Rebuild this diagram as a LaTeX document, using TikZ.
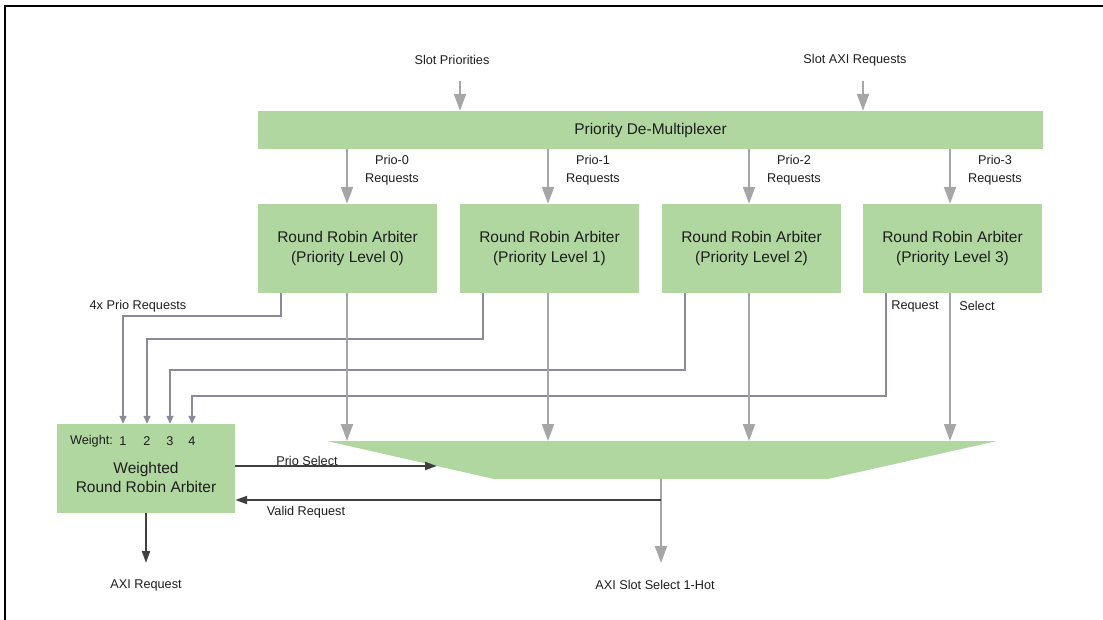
\documentclass[tikz,border=0pt]{standalone}
\usepackage{fontspec}
\setmainfont{Liberation Sans}
\usetikzlibrary{arrows.meta}
\definecolor{blockgreen}{HTML}{B0D7A0}
\definecolor{flowgray}{HTML}{A6A6A6}
\definecolor{reqline}{HTML}{8A8A9A}
\definecolor{ctrldark}{HTML}{404040}
\definecolor{txt}{HTML}{1E1E1E}

\begin{document}
\begin{tikzpicture}[x=1pt,y=-1pt,
  block/.style={fill=blockgreen, draw=none, align=center, text=txt,
    font=\fontsize{15.5}{19.5}\selectfont, inner sep=0pt},
  lbl/.style={align=center, text=txt, font=\fontsize{12.7}{18}\selectfont, inner sep=0pt},
  flow/.style={draw=flowgray, line width=2pt, -{Triangle[width=12pt,length=17pt]}},
  req/.style={draw=reqline, line width=1.4pt, -{Triangle[width=7pt,length=8pt]}},
  ctrl/.style={draw=ctrldark, line width=2pt, -{Triangle[width=8pt,length=12pt]}},
]
\useasboundingbox (0,0) rectangle (1103,620);

% page frame (top and left edges)
\draw[line width=2pt] (5,620) -- (5,6) -- (1104,6);

% ---------- inputs and de-multiplexer ----------
\node[lbl] (prioIn) at (452,60) {Slot Priorities};
\node[lbl] (axiIn)  at (855,60) {Slot AXI Requests};
\node[block, minimum width=785pt, minimum height=38pt] (demux) at (650.5,130) {Priority De-Multiplexer};

\coordinate (prioSrc) at (460,81);
\coordinate (axiSrc)  at (863,81);
\draw[flow] (prioSrc) -- (prioSrc |- demux.north);
\draw[flow] (axiSrc)  -- (axiSrc |- demux.north);

% ---------- per-level round robin arbiters ----------
\foreach \i/\bx in {0/347.5,1/549.5,2/751.5,3/952.5}
  \node[block, minimum width=179pt, minimum height=89pt] (rr\i) at (\bx,248.5)
    {Round Robin Arbiter\\(Priority Level \i)};

% select columns
\foreach \i/\px in {0/347,1/548,2/749,3/950}
  \coordinate (sel\i) at (\px,0);

% request labels and de-mux outputs
\foreach \i/\px in {0/347,1/548,2/749,3/950}{
  \draw[flow] (demux.south -| sel\i) -- (rr\i.north -| sel\i);
  \node[lbl] (preq\i) at (\px+45,170.5) {Prio-\i\\Requests};
}

% ---------- weighted round robin arbiter ----------
\node[block, minimum width=178pt, minimum height=89pt] (wrr) at (146,468.5) {};
\node[block, fill=none] (wrrText) at (146,477.5) {Weighted\\Round Robin Arbiter};
\node[lbl] (wlabel) at (91.5,441) {Weight:};
\node[lbl] (wt0) at (123,441) {1};
\node[lbl] (wt1) at (147,441) {2};
\node[lbl] (wt2) at (170,441) {3};
\node[lbl] (wt3) at (192,441) {4};

% ---------- slot multiplexer ----------
\coordinate (muxTL) at (327,441);
\coordinate (muxTR) at (997,441);
\coordinate (muxBR) at (828,479);
\coordinate (muxBL) at (494,479);
\fill[blockgreen] (muxTL) -- (muxTR) -- (muxBR) -- (muxBL) -- cycle;

% request taps from each level to the weighted arbiter
\foreach \i/\tx/\ty in {0/281/316,1/483/339,2/685/370,3/886/396}{
  \coordinate (tap\i) at (\tx,\ty);
  \draw[req] (rr\i.south -| tap\i) -- (tap\i) -| (wrr.north -| wt\i);
}

% select paths into the multiplexer
\foreach \i in {0,1,2,3}
  \draw[flow] (rr\i.south -| sel\i) -- (sel\i |- muxTL);

\node[lbl] (reqLbl)  at (138,306) {4x Prio Requests};
\node[lbl] (req3Lbl) at (915,306) {Request};
\node[lbl] (sel3Lbl) at (977,306) {Select};

% ---------- control between arbiter and multiplexer ----------
\coordinate (muxIn) at (437,466);
\draw[ctrl] (wrr.east |- muxIn) -- (muxIn);
\node[lbl] (pselLbl) at (307,461) {Prio Select};

\coordinate (muxOut) at (661,479);
\coordinate (validTap) at (661,500);
\coordinate (slotEnd) at (661,563);
\draw[flow] (muxOut) -- (slotEnd);
\draw[ctrl] (validTap) -- (validTap -| wrr.east);
\node[lbl] (validLbl) at (306,512.5) {Valid Request};

% ---------- outputs ----------
\coordinate (axiEnd) at (146,563);
\draw[ctrl] (wrr.south) -- (axiEnd);
\node[lbl] (axiOut)  at (146,585) {AXI Request};
\node[lbl] (slotOut) at (655,585) {AXI Slot Select 1-Hot};
\end{tikzpicture}
\end{document}
